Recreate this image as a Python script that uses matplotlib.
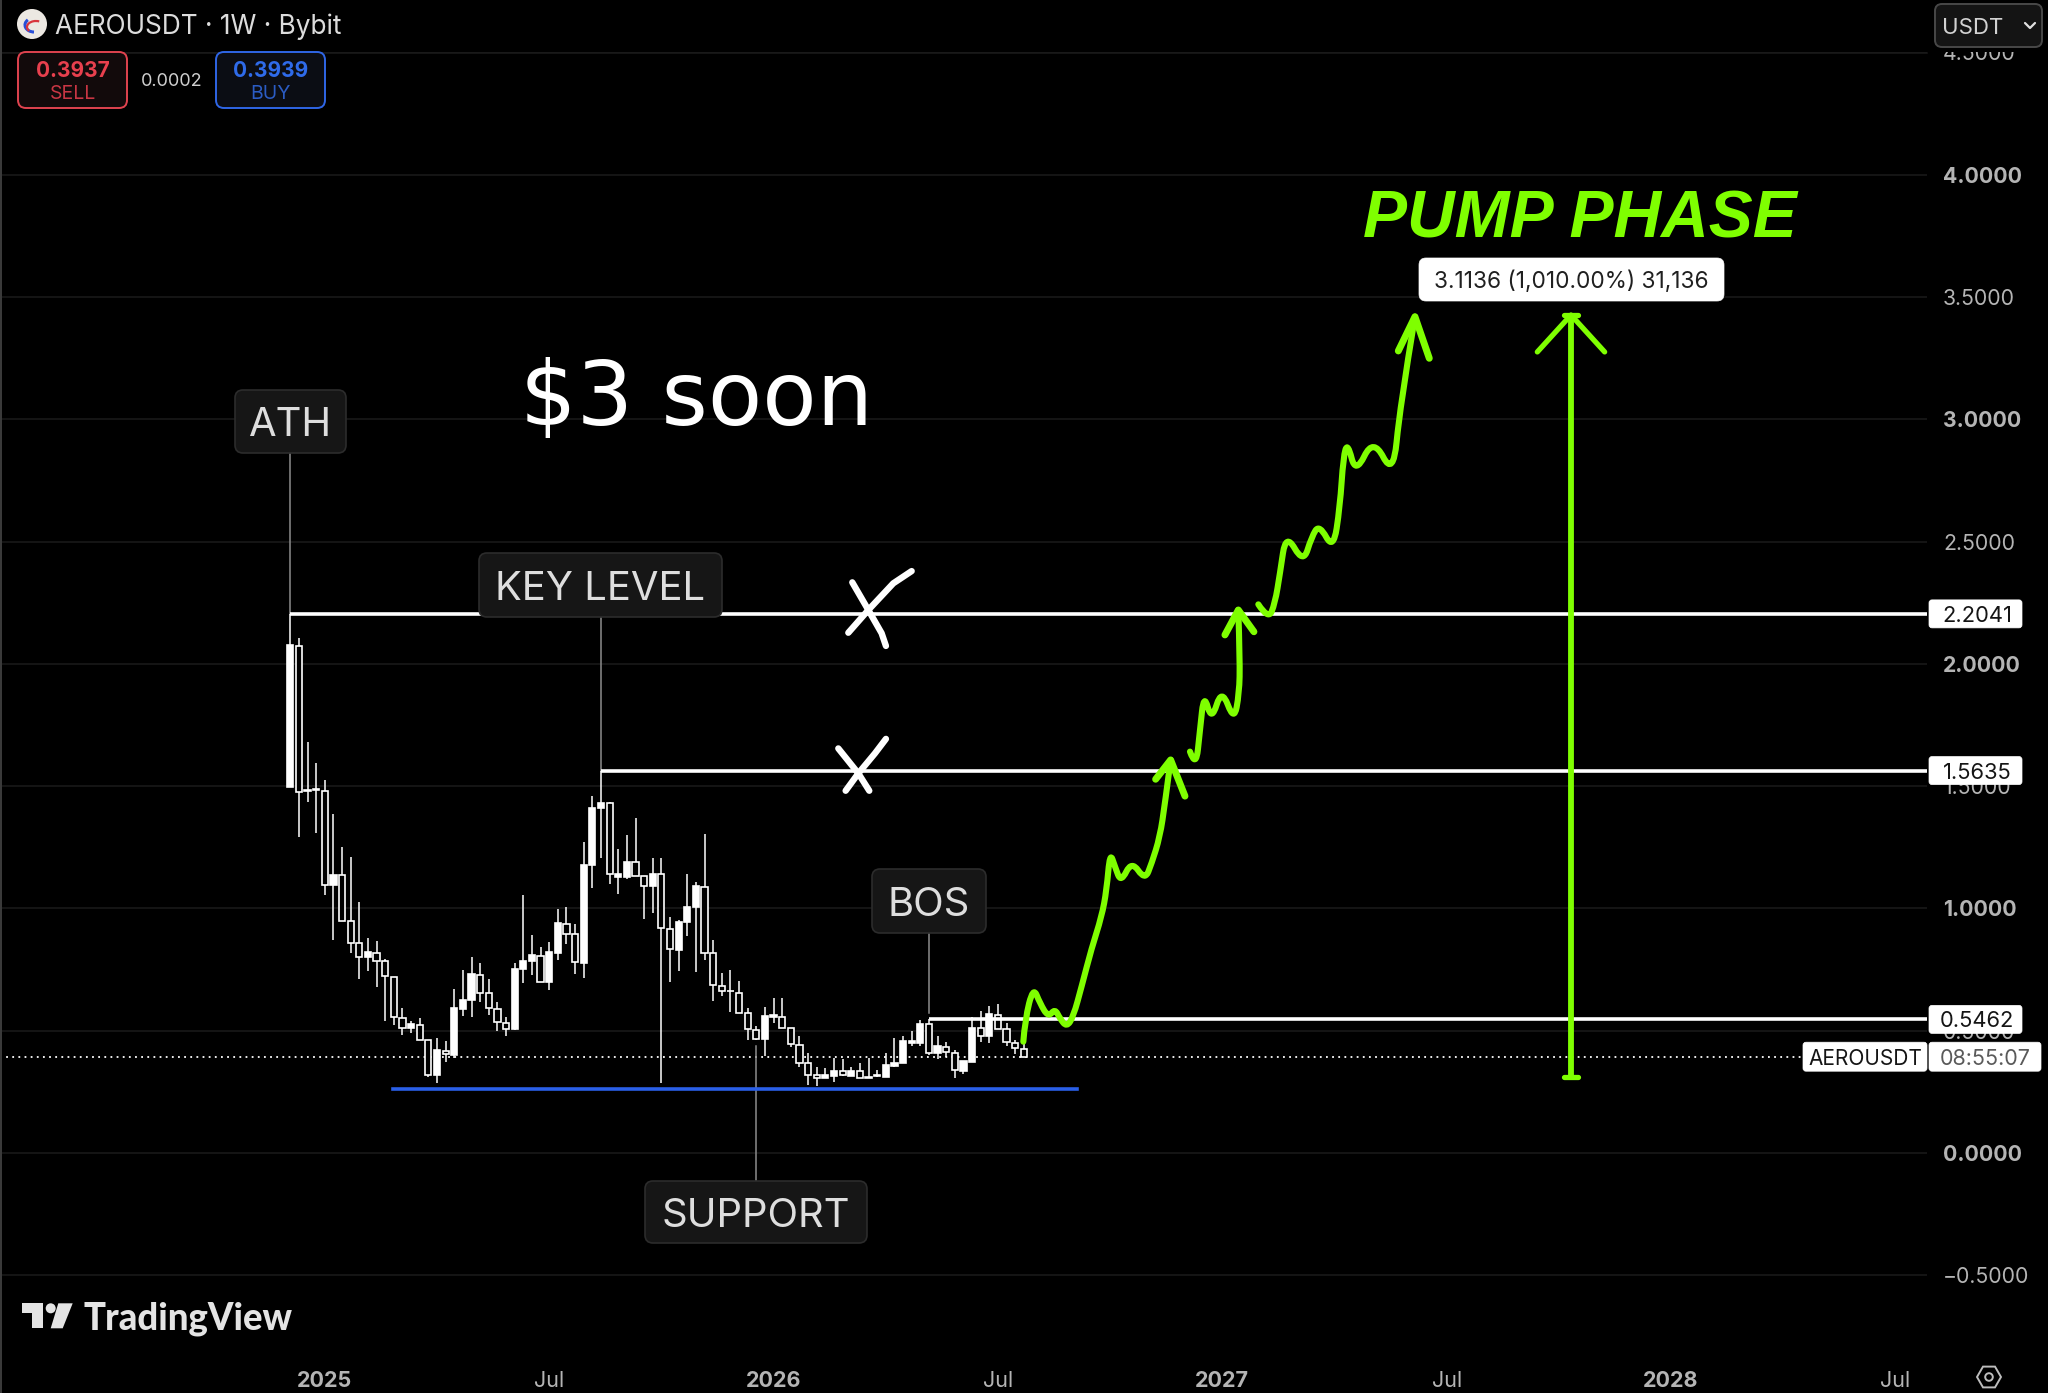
import matplotlib
matplotlib.use("Agg")
import matplotlib.pyplot as plt
from matplotlib.patches import FancyBboxPatch, Rectangle, Circle, Polygon, RegularPolygon, Arc, PathPatch
from matplotlib.path import Path
import numpy as np

plt.rcParams['font.family'] = ['Inter', 'DejaVu Sans']

# ---------- weekly candles (price) ----------
opens = [1.498,2.073,1.480,1.483,1.481,1.094,1.135,0.947,0.857,0.803,0.819,0.785,0.721,0.551,0.511,0.523,0.462,0.319,0.418,0.401,
         0.589,0.625,0.728,0.653,0.590,0.533,0.506,0.751,0.785,0.807,0.700,0.819,0.938,0.895,0.778,1.177,1.409,1.432,1.130,1.127,
         1.190,1.131,1.092,1.142,0.916,0.830,0.944,1.007,1.089,0.816,0.683,0.661,0.653,0.571,0.503,0.465,0.557,0.555,0.510,0.443,
         0.367,0.319,0.307,0.315,0.335,0.316,0.335,0.308,0.313,0.312,0.357,0.367,0.448,0.448,0.527,0.410,0.435,0.410,0.335,0.373,
         0.510,0.480,0.564,0.506,0.448,0.427]
highs = [2.204,2.104,1.679,1.593,1.525,1.386,1.251,1.210,1.025,0.878,0.867,0.792,0.721,0.591,0.541,0.551,0.462,0.469,0.459,0.670,
         0.748,0.803,0.778,0.710,0.619,0.555,0.778,1.055,0.891,0.844,0.861,0.998,1.004,0.936,1.270,1.461,1.5635,1.436,1.241,1.300,
         1.368,1.131,1.205,1.205,0.964,0.953,1.141,1.109,1.304,0.871,0.737,0.748,0.703,0.591,0.519,0.598,0.632,0.632,0.510,0.480,
         0.407,0.353,0.346,0.387,0.383,0.350,0.367,0.387,0.339,0.407,0.469,0.480,0.499,0.544,0.5462,0.480,0.455,0.421,0.376,0.555,
         0.581,0.602,0.609,0.530,0.462,0.455]
lows = [1.498,1.293,1.436,1.307,1.055,0.871,0.948,0.816,0.710,0.745,0.680,0.541,0.523,0.482,0.492,0.462,0.312,0.285,0.373,0.387,
        0.561,0.555,0.619,0.564,0.499,0.478,0.503,0.696,0.728,0.698,0.666,0.789,0.854,0.732,0.717,1.082,1.207,1.100,1.057,1.119,
        1.132,0.957,0.982,0.285,0.698,0.745,0.889,0.741,0.789,0.623,0.642,0.578,0.571,0.462,0.462,0.397,0.530,0.510,0.435,0.353,
        0.278,0.274,0.305,0.292,0.315,0.315,0.305,0.305,0.309,0.309,0.353,0.367,0.439,0.439,0.401,0.384,0.394,0.308,0.323,0.373,
        0.455,0.451,0.506,0.439,0.403,0.394]
closes = [2.077,1.475,1.483,1.487,1.096,1.135,0.948,0.858,0.803,0.820,0.786,0.722,0.555,0.512,0.526,0.462,0.320,0.421,0.403,0.591,
          0.625,0.732,0.653,0.591,0.536,0.508,0.751,0.785,0.809,0.700,0.820,0.939,0.897,0.779,1.177,1.409,1.432,1.141,1.139,1.191,
          1.132,1.092,1.142,0.918,0.833,0.946,1.007,1.092,0.816,0.687,0.661,0.664,0.574,0.506,0.465,0.560,0.563,0.511,0.444,0.369,
          0.320,0.308,0.318,0.337,0.318,0.337,0.308,0.312,0.318,0.358,0.367,0.459,0.458,0.527,0.410,0.437,0.413,0.339,0.376,0.510,
          0.480,0.567,0.508,0.454,0.428,0.394]

# ---------- levels ----------
ath_level, key_level, bos_level = 2.2041, 1.5635, 0.5462
support_level = 0.263
last_price = 0.3937
level_tags = ['2.2041', '1.5635', '0.5462']
level_vals = [2.2041, 1.5635, 0.5462]

y_ticks = [-0.5, 0, 0.5, 1, 1.5, 2, 2.5, 3, 3.5, 4, 4.5]
y_labels = ['\u22120.5000','0.0000','0.5000','1.0000','1.5000','2.0000','2.5000','3.0000','3.5000','4.0000','4.5000']
x_ticks = [4, 30, 56, 82, 108, 134, 160, 186]
x_labels = ['2025','Jul','2026','Jul','2027','Jul','2028','Jul']

# ---------- hand-drawn projection (week index, price) ----------
leg1_w = [84.94,85.13,86.09,86.87,87.83,88.60,89.18,89.96,90.73,91.69,92.85,94.01,94.59,94.98,95.56,96.25,97.49,99.03,99.81,100.77,101.35,102.01]
leg1_p = [0.455,0.544,0.680,0.612,0.555,0.590,0.550,0.515,0.557,0.680,0.837,0.966,1.075,1.230,1.171,1.105,1.195,1.115,1.184,1.293,1.429,1.607]
head1_w = [100.27,102.01,103.67]
head1_p = [1.528,1.607,1.459]
leg2_w = [104.25,104.94,105.41,105.87,106.76,107.92,109.35,109.96,110.04,109.85]
leg2_p = [1.641,1.573,1.729,1.880,1.765,1.900,1.765,1.879,2.016,2.220]
head2_w = [108.30,109.85,111.66]
head2_p = [2.118,2.220,2.131]
leg3_w = [112.17,113.33,114.10,114.68,115.37,117.38,118.35,119.24,120.86,121.63,122.02,122.52,123.45,125.49,127.81,128.58,130.32]
leg3_p = [2.243,2.180,2.247,2.370,2.535,2.410,2.520,2.570,2.465,2.642,2.847,2.905,2.775,2.925,2.765,3.051,3.419]
head3_w = [128.39,130.32,131.98]
head3_p = [3.279,3.419,3.249]
x1a_w, x1a_p = [65.12,66.98,68.52,69.02], [2.333,2.220,2.125,2.073]
x1b_w, x1b_p = [64.66,66.98,69.87,72.0], [2.127,2.220,2.329,2.379]
x2a_w, x2a_p = [63.50,65.82,67.09], [1.654,1.552,1.481]
x2b_w, x2b_p = [64.35,65.82,67.75,69.02], [1.481,1.552,1.634,1.693]
measure_w, measure_low, measure_high = 148.4, 0.31, 3.426

GREEN = '#7fff00'
PX0, PXW = 290.3, 8.63      # pixel of week 0, pixels per week
PY0, PYU = 1153.0, 244.6    # pixel of price 0, pixels per price unit
def wk(px): return (px - PX0) / PXW
def pr(py): return (PY0 - py) / PYU

fig = plt.figure(figsize=(20.48, 13.93), dpi=100, facecolor='black')
AX_R, AX_T, AX_B = 1927, 50, 1340
ax = fig.add_axes([0, (1393 - AX_B) / 1393, AX_R / 2048, (AX_B - AX_T) / 1393], facecolor='black')
ax.set_xlim(wk(0), wk(AX_R))
ax.set_ylim(pr(AX_B), pr(AX_T))
for s in ax.spines.values():
    s.set_visible(False)

ax.set_yticks(y_ticks)
ax.set_yticklabels(y_labels)
ax.yaxis.tick_right()
ax.tick_params(axis='y', length=0, pad=11.5, labelsize=15.3, labelcolor='#b4b4b4')
for t, v in zip(ax.get_yticklabels(), y_ticks):
    t.set_fontweight('bold' if float(v).is_integer() else 'normal')
    t.set_verticalalignment('center_baseline')
ax.set_xticks(x_ticks)
ax.set_xticklabels(x_labels)
ax.tick_params(axis='x', length=0, pad=22, labelsize=15.5, labelcolor='#b4b4b4')
for t, l in zip(ax.get_xticklabels(), x_labels):
    t.set_fontweight('bold' if l != 'Jul' else 'normal')
ax.grid(axis='y', color='#1b1b1b', lw=1.1)
ax.set_axisbelow(True)

# candles
idx = np.arange(len(opens))
o, h, l, c = map(np.array, (opens, highs, lows, closes))
ax.vlines(idx, l, h, color='white', lw=1.1, zorder=3)
up = c >= o
ax.bar(idx, np.abs(c - o), bottom=np.minimum(o, c), width=0.72,
       color=np.where(up, 'white', 'black'), edgecolor='white', linewidth=1.2, zorder=4)

# levels
right = wk(AX_R)
ax.plot([0, right], [ath_level]*2, color='white', lw=2.6, zorder=5, solid_capstyle='butt')
ax.plot([36, right], [key_level]*2, color='white', lw=2.6, zorder=5, solid_capstyle='butt')
ax.plot([74, right], [bos_level]*2, color='white', lw=2.6, zorder=5, solid_capstyle='butt')
ax.plot([11.9, 91.2], [support_level]*2, color='#2a5fe8', lw=2.6, zorder=5)
ax.plot([wk(0), wk(1810)], [last_price]*2, color='white', lw=1.3, ls=(0, (1, 2.4)), zorder=2)

# connectors
for w, a, b in [(0, 2.2041, 2.862), (36, 1.5635, 2.191), (74, 0.572, 0.899), (54, 0.437, -0.114)]:
    ax.plot([w, w], [a, b], color='#8c8c8c', lw=1.1, zorder=2.5)

def smooth(xs, ys, color, lw):
    """Rounded stroke: the read points act as quadratic control points."""
    pts = np.column_stack([xs, ys])
    verts, codes = [pts[0]], [Path.MOVETO]
    for i in range(1, len(pts) - 1):
        end = (pts[i] + pts[i + 1]) / 2 if i < len(pts) - 2 else pts[i + 1]
        verts += [pts[i], end]
        codes += [Path.CURVE3, Path.CURVE3]
    ax.add_patch(PathPatch(Path(verts, codes), fc='none', ec=color, lw=lw, capstyle='round',
                           joinstyle='round', zorder=7))

stroke = dict(solid_capstyle='round', solid_joinstyle='round', zorder=7)
for xs, ys in [(leg1_w, leg1_p), (leg2_w, leg2_p), (leg3_w, leg3_p)]:
    smooth(xs, ys, GREEN, 4.4)
for xs, ys in [(head1_w, head1_p), (head2_w, head2_p), (head3_w, head3_p)]:
    ax.plot(xs, ys, color=GREEN, lw=5.0, **stroke)
for xs, ys in [(x1a_w, x1a_p), (x1b_w, x1b_p), (x2a_w, x2a_p), (x2b_w, x2b_p)]:
    ax.plot(xs, ys, color='white', lw=4.6, **stroke)
ax.plot([measure_w]*2, [measure_low, measure_high], color=GREEN, lw=4.2, zorder=7, solid_capstyle='butt')
ax.plot([measure_w-0.8, measure_w+0.8], [measure_low]*2, color=GREEN, lw=3.8, zorder=7, solid_capstyle='round')
ax.plot([measure_w-0.8, measure_w+0.8], [measure_high]*2, color=GREEN, lw=3.8, zorder=7, solid_capstyle='round')
ax.plot([measure_w-3.9, measure_w, measure_w+3.9], [3.275, measure_high, 3.275], color=GREEN, lw=3.8, **stroke)

ax.text(wk(520), pr(425), '$3 soon', color='white', fontsize=64, family='DejaVu Sans',
        ha='left', va='baseline', zorder=7)
ax.text(wk(1363), pr(238), 'PUMP PHASE', color=GREEN, fontsize=47.5, family='Liberation Sans',
        fontweight='bold', fontstyle='italic', ha='left', va='baseline', zorder=7)

# ---------- interface chrome in pixel coordinates ----------
ui = fig.add_axes([0, 0, 1, 1], zorder=5, facecolor='none')
ui.set_xlim(0, 2048); ui.set_ylim(1393, 0); ui.axis('off')
ui.add_patch(Rectangle((0, 0), 2048, 52, fc='black', ec='none', zorder=1))
ui.plot([0, 1927], [53, 53], color='#1b1b1b', lw=1.1, zorder=1)
ui.add_patch(Rectangle((0, 0), 2, 1393, fc='#3a3a3a', ec='none', zorder=1))

def box(x0, y0, x1, y1, fc, ec, r=5, lw=1.2, z=2):
    ui.add_patch(FancyBboxPatch((x0, y0), x1 - x0, y1 - y0, boxstyle=f'round,pad=0,rounding_size={r}',
                                fc=fc, ec=ec, lw=lw, zorder=z))
def label(x, y, s, color, size, ha='center', **kw):
    ui.text(x, y, s, color=color, fontsize=size, ha=ha, va='center_baseline', zorder=3, **kw)

# callouts
for txt, x0, y0, x1, y1 in [('ATH', 235, 390, 346, 453), ('KEY LEVEL', 479, 553, 722, 617),
                            ('BOS', 872, 869, 986, 933), ('SUPPORT', 645, 1181, 867, 1243)]:
    box(x0, y0, x1, y1, '#161616', '#2c2c2c', r=8)
    label((x0 + x1) / 2, (y0 + y1) / 2 + 0.5, txt, '#dedede', 28.8)

# measure label
box(1419, 258, 1724, 301, 'white', 'white', r=7, lw=0.5)
label(1571.5, 279.5, '3.1136 (1,010.00%) 31,136', '#202020', 16.3)

# header
ui.add_patch(Circle((32, 24), 15, fc='#ece8e2', ec='none', zorder=2))
ui.add_patch(Arc((34, 25), 18, 14, theta1=90, theta2=220, color='#2a4fd8', lw=2.2, zorder=3))
ui.add_patch(Arc((36, 27), 18, 12, theta1=150, theta2=300, color='#d8343c', lw=1.6, zorder=3))
label(55, 24, 'AEROUSDT \u00b7 1W \u00b7 Bybit', '#dcdcdc', 18.9, ha='left')
box(18, 52, 127, 108, '#120a0b', '#e0434f', r=8, lw=1.4)
box(216, 52, 325, 108, '#0b0d14', '#2f66e6', r=8, lw=1.4)
label(72.5, 69, '0.3937', '#e8404e', 15, fontweight='bold')
label(72.5, 92, 'SELL', '#c93644', 14)
label(270.5, 69, '0.3939', '#2f6bea', 15, fontweight='bold')
label(270.5, 92, 'BUY', '#2b5cc4', 14)
label(171.5, 80, '0.0002', '#cfcfcf', 13)

box(1935, 4, 2042, 47, '#141414', '#484848', r=7, lw=1.4)
label(1942, 26, 'USDT', '#d2d2d2', 16, ha='left')
ui.plot([2025, 2030, 2035], [23, 28, 23], color='#e0e0e0', lw=1.6, zorder=3, solid_capstyle='round')

# price tags
for lab, v in zip(level_tags, level_vals):
    yp = PY0 - v * PYU
    box(1929, yp - 14, 2022, yp + 14, 'white', 'white', r=3, lw=0.5)
    label(1977, yp, lab, '#151515', 15.8)
yp = PY0 - last_price * PYU
box(1803, yp - 14.5, 1927, yp + 14.5, 'white', 'white', r=3, lw=0.5)
box(1929, yp - 14.5, 2041, yp + 14.5, 'white', 'white', r=3, lw=0.5)
label(1865, yp, 'AEROUSDT', '#151515', 15)
label(1985, yp, '08:55:07', '#5a5a5a', 15.5)

# TradingView mark
ui.add_patch(Polygon([(21.7,1303.3),(43.3,1303.3),(43.3,1328.3),(32.3,1328.3),(32.3,1313.3),(21.7,1313.3)], fc='#e4e4e4', ec='none', zorder=3))
ui.add_patch(Circle((50.7, 1308.3), 5, fc='#e4e4e4', ec='none', zorder=3))
ui.add_patch(Polygon([(58.3,1303.3),(72.7,1303.3),(62.7,1328.3),(50.7,1328.3)], fc='#e4e4e4', ec='none', zorder=3))
ui.text(84, 1316, 'TradingView', color='#e4e4e4', fontsize=26.3, family='Lato', fontweight='black',
        ha='left', va='center_baseline', zorder=3)

# settings icon
ui.add_patch(RegularPolygon((1989, 1377), 6, radius=12, orientation=np.pi / 6, fc='none', ec='#bdbdbd', lw=1.4, zorder=3))
ui.add_patch(Circle((1989, 1377), 3.8, fc='none', ec='#bdbdbd', lw=1.4, zorder=3))

fig.savefig('out.png', dpi=100, facecolor='black')
